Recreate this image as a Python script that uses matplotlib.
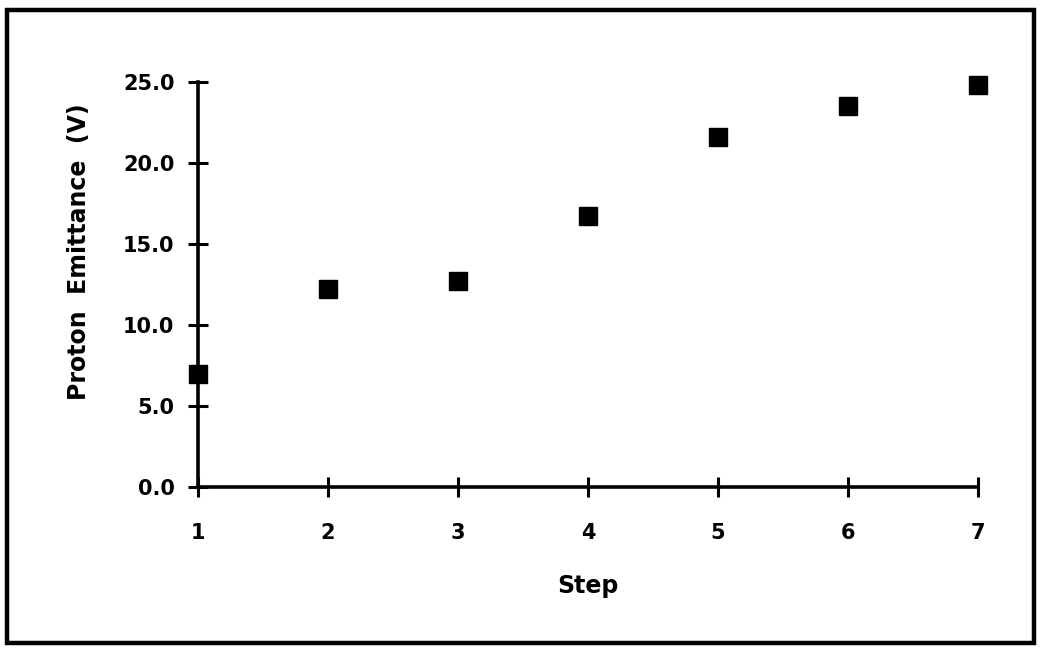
import matplotlib
matplotlib.use("Agg")
import matplotlib.pyplot as plt
from matplotlib.patches import Rectangle

# data
steps = [1, 2, 3, 4, 5, 6, 7]
emittance = [7.0, 12.2, 12.7, 16.7, 21.6, 23.5, 24.8]
yticks = [0.0, 5.0, 10.0, 15.0, 20.0, 25.0]

plt.rcParams['font.family'] = ['DejaVu Sans']

fig = plt.figure(figsize=(10.4, 6.48), dpi=100)
ax = fig.add_axes([0.1904, 0.2485, 0.75, 0.625])

ax.plot(steps, emittance, linestyle='none', marker='s', markersize=12.5,
        color='black', clip_on=False, zorder=5)

ax.set_xlim(1, 7)
ax.set_ylim(0, 25)
ax.set_xticks(steps)
ax.set_yticks(yticks)
ax.set_yticklabels([f"{v:.1f}" for v in yticks])

for s in ['top', 'right']:
    ax.spines[s].set_visible(False)
for s in ['left', 'bottom']:
    ax.spines[s].set_linewidth(2.6)

ax.tick_params(direction='inout', length=14, width=2.2, labelsize=15)
ax.tick_params(axis='x', pad=19)
ax.tick_params(axis='y', pad=10)
for lab in ax.get_xticklabels() + ax.get_yticklabels():
    lab.set_fontweight('bold')

ax.set_xlabel('Step', fontsize=17, fontweight='bold', labelpad=22)
ax.set_ylabel('Proton  Emittance  (V)', fontsize=17, fontweight='bold')
# label sits a bit above the middle of the axis in the original
ax.yaxis.set_label_coords(-0.137, 0.58)

# thick frame round the whole picture
fig.patches.append(Rectangle((0.0065, 0.008), 0.988, 0.977, transform=fig.transFigure,
                             fill=False, edgecolor='black', linewidth=3.2))

fig.savefig('out.png', dpi=100)
